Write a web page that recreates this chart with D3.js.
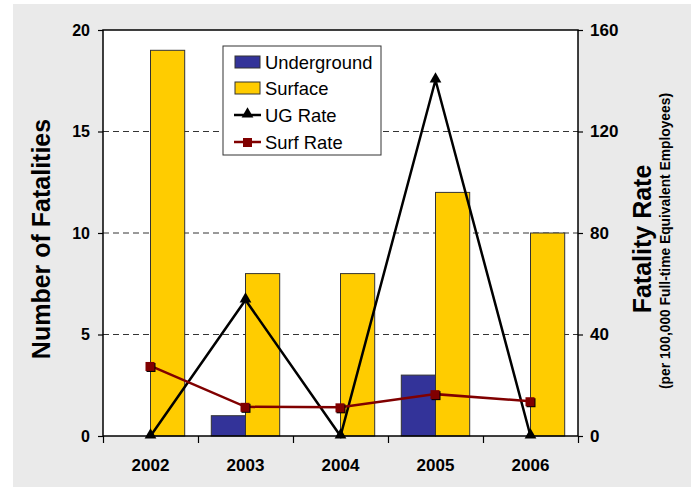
<!DOCTYPE html>
<html>
<head>
<meta charset="utf-8">
<script src="https://cdn.jsdelivr.net/npm/d3@7"></script>
<style>
body{margin:0;background:#fff;}
</style>
</head>
<body>
<script>
var years=["2002","2003","2004","2005","2006"];
var underground=[0,1,0,3,0];
var surface=[19,8,8,12,10];
var ugRate=[0,53.6,0,140.3,0];
var surfRate=[27.6,11.5,11.3,16.5,13.7];
var leftTicks=[0,5,10,15,20];
var rightTicks=[0,40,80,120,160];

var drawChart=function()
{
  var width=698;
  var height=487;
  var left=103,right=578,top=30,bottom=436;

  var svg=d3.select("body").append("svg")
            .attr("width",width)
            .attr("height",height)
            .style("font-family","'Liberation Sans', Arial, sans-serif");

  svg.append("rect")
     .attr("x",13).attr("y",4)
     .attr("width",678).attr("height",483)
     .attr("fill","#EAEAEA");

  var x=d3.scaleBand().domain(years).range([left,right]).padding(0);
  var y=d3.scaleLinear().domain([0,20]).range([bottom,top]);
  var y2=d3.scaleLinear().domain([0,160]).range([bottom,top]);
  var barW=x.bandwidth()*0.36;
  var cx=function(d,i){ return x(years[i])+x.bandwidth()/2; };

  svg.append("rect")
     .attr("x",left).attr("y",top)
     .attr("width",right-left).attr("height",bottom-top)
     .attr("fill","white");

  // dashed gridlines
  svg.selectAll("line.grid")
     .data(leftTicks.filter(function(d){ return d>0 && d<20; }))
     .enter()
     .append("line")
     .attr("class","grid")
     .attr("x1",left).attr("x2",right)
     .attr("y1",function(d){ return y(d); })
     .attr("y2",function(d){ return y(d); })
     .attr("stroke","#000")
     .attr("stroke-width",0.8)
     .attr("stroke-dasharray","6,4");

  svg.selectAll("rect.ug")
     .data(underground)
     .enter()
     .append("rect")
     .attr("class","ug")
     .attr("x",function(d,i){ return cx(d,i)-barW; })
     .attr("y",function(d){ return y(d); })
     .attr("width",barW)
     .attr("height",function(d){ return bottom-y(d); })
     .attr("fill","#333399")
     .attr("stroke","#333")
     .attr("stroke-width",function(d){ return d>0?1:0; });

  svg.selectAll("rect.surf")
     .data(surface)
     .enter()
     .append("rect")
     .attr("class","surf")
     .attr("x",function(d,i){ return cx(d,i); })
     .attr("y",function(d){ return y(d); })
     .attr("width",barW)
     .attr("height",function(d){ return bottom-y(d); })
     .attr("fill","#FFCC00")
     .attr("stroke","#333")
     .attr("stroke-width",1);

  // plot frame
  svg.append("rect")
     .attr("x",left).attr("y",top)
     .attr("width",right-left).attr("height",bottom-top)
     .attr("fill","none")
     .attr("stroke","#000")
     .attr("stroke-width",1.5);

  svg.append("path")
     .datum(ugRate)
     .attr("d",d3.line().x(function(d,i){ return cx(d,i); }).y(function(d){ return y2(d); }))
     .attr("fill","none")
     .attr("stroke","#000")
     .attr("stroke-width",2.5);

  svg.append("path")
     .datum(surfRate)
     .attr("d",d3.line().x(function(d,i){ return cx(d,i); }).y(function(d){ return y2(d); }))
     .attr("fill","none")
     .attr("stroke","#800000")
     .attr("stroke-width",2.5);

  var tri=d3.symbol().type(d3.symbolTriangle).size(60);
  svg.selectAll("path.tri")
     .data(ugRate)
     .enter()
     .append("path")
     .attr("class","tri")
     .attr("d",tri)
     .attr("transform",function(d,i){ return "translate("+cx(d,i)+","+(y2(d)-1)+")"; })
     .attr("fill","#000");

  svg.selectAll("rect.sq0")
     .data(surfRate)
     .enter()
     .append("rect")
     .attr("class","sq0")
     .attr("x",function(d,i){ return cx(d,i)-4; })
     .attr("y",function(d){ return y2(d)-3; })
     .attr("width",9).attr("height",9)
     .attr("fill","#000");
  svg.selectAll("rect.sq")
     .data(surfRate)
     .enter()
     .append("rect")
     .attr("class","sq")
     .attr("x",function(d,i){ return cx(d,i)-5; })
     .attr("y",function(d){ return y2(d)-4; })
     .attr("width",9).attr("height",9)
     .attr("fill","#800000");

  // axes
  var gl=svg.append("g").attr("transform","translate("+left+",0)")
            .call(d3.axisLeft(y).tickValues(leftTicks).tickSize(5).tickPadding(8));
  var gr=svg.append("g").attr("transform","translate("+right+",0)")
            .call(d3.axisRight(y2).tickValues(rightTicks).tickSize(5).tickPadding(7));
  var xb=d3.scaleLinear().domain([0,5]).range([left,right]);
  var gb=svg.append("g").attr("transform","translate(0,"+bottom+")")
            .call(d3.axisBottom(xb).ticks(5).tickSize(7).tickFormat(""));
  [gl,gr,gb].forEach(function(g){
    g.select(".domain").remove();
    g.selectAll("line").attr("stroke","#000").attr("stroke-width",1.2);
    g.selectAll("text")
     .attr("font-size",17)
     .attr("font-weight","bold")
     .attr("font-family","'Liberation Sans', Arial, sans-serif")
     .attr("fill","#000");
  });
  gl.selectAll("text").attr("font-size",16);

  svg.selectAll("text.year")
     .data(years)
     .enter()
     .append("text")
     .attr("class","year")
     .text(function(d){ return d; })
     .attr("x",function(d){ return x(d)+x.bandwidth()/2; })
     .attr("y",471)
     .attr("text-anchor","middle")
     .attr("font-size",17)
     .attr("font-weight","bold");

  // axis titles
  svg.append("text")
     .text("Number of Fatalities")
     .attr("transform","translate(50,239) rotate(-90)")
     .attr("text-anchor","middle")
     .attr("font-size",25)
     .attr("font-weight","bold");
  svg.append("text")
     .text("Fatality Rate")
     .attr("transform","translate(651,239) rotate(-90)")
     .attr("text-anchor","middle")
     .attr("font-size",25)
     .attr("font-weight","bold");
  svg.append("text")
     .text("(per 100,000 Full-time Equivalent Employees)")
     .attr("transform","translate(670,241) rotate(-90)")
     .attr("text-anchor","middle")
     .attr("font-size",13.8)
     .attr("font-weight","bold");

  // legend
  var legend=svg.append("g");
  legend.append("rect")
        .attr("x",223).attr("y",46)
        .attr("width",158).attr("height",109)
        .attr("fill","white")
        .attr("stroke","#333")
        .attr("stroke-width",1);
  var names=["Underground","Surface","UG Rate","Surf Rate"];
  var ly=[62,88,115,142];
  legend.selectAll("text")
        .data(names)
        .enter()
        .append("text")
        .text(function(d){ return d; })
        .attr("x",265)
        .attr("y",function(d,i){ return ly[i]+6.5; })
        .attr("font-size",18.4)
        .attr("fill","#000");
  legend.append("rect").attr("x",235).attr("y",ly[0]-6).attr("width",25).attr("height",12)
        .attr("fill","#333399").attr("stroke","#333");
  legend.append("rect").attr("x",235).attr("y",ly[1]-6).attr("width",25).attr("height",12)
        .attr("fill","#FFCC00").attr("stroke","#333");
  legend.append("line").attr("x1",234).attr("x2",261).attr("y1",ly[2]).attr("y2",ly[2])
        .attr("stroke","#000").attr("stroke-width",2.5);
  legend.append("path").attr("d",tri)
        .attr("transform","translate(247.5,"+(ly[2]-1)+")").attr("fill","#000");
  legend.append("line").attr("x1",234).attr("x2",261).attr("y1",ly[3]).attr("y2",ly[3])
        .attr("stroke","#800000").attr("stroke-width",2.5);
  legend.append("rect").attr("x",243).attr("y",ly[3]-4).attr("width",9).attr("height",9)
        .attr("fill","#800000");
}

drawChart();
</script>
</body>
</html>
